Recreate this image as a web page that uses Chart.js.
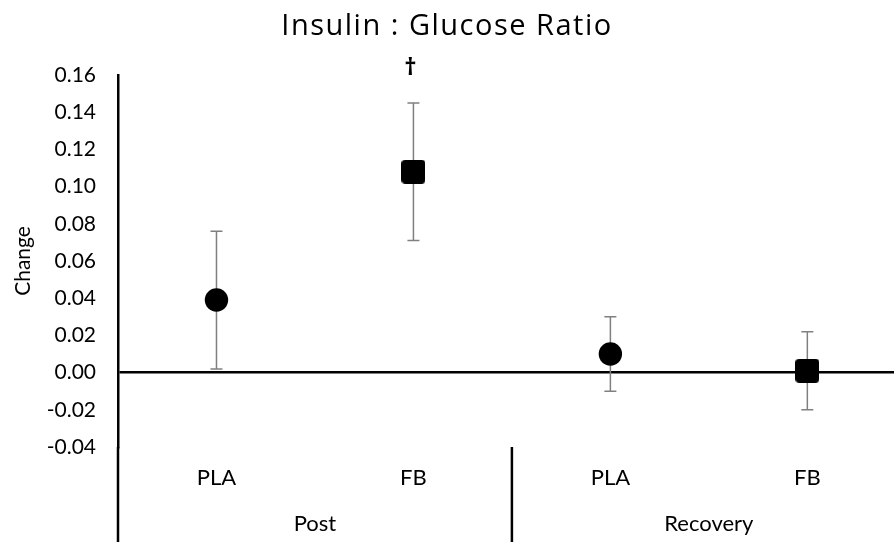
<!DOCTYPE html>
<html>
<head>
<meta charset="utf-8">
<script src="https://cdn.jsdelivr.net/npm/chart.js@4.4.1/dist/chart.umd.min.js"></script>
<style>
  html, body { margin: 0; padding: 0; background: #fff; overflow: hidden; }
  canvas { display: block; }
</style>
</head>
<body>
<canvas id="chart" width="894" height="542" style="width:894px;height:542px"></canvas>
<script>
// Change in insulin : glucose ratio, mean ± error, per treatment and time point
const categories = ['PLA', 'FB', 'PLA', 'FB'];
const groups = ['Post', 'Recovery'];
const means = [0.039, 0.108, 0.010, 0.001];
const errors = [0.037, 0.037, 0.020, 0.021];
const markers = ['circle', 'square', 'circle', 'square'];
const marks = ['', '†', '', ''];
const yTicks = { min: -0.04, max: 0.16, step: 0.02 };
// visible span of the category axis (the last slot runs past the frame edge)
const xSpan = { min: -0.5, max: 3.44 };
const chartTitle = 'Insulin : Glucose Ratio';
const yTitle = 'Change';

const FONT = 'Lato, "Open Sans", sans-serif';
const TITLE_FONT = '"Open Sans", Lato, sans-serif';
const perGroup = categories.length / groups.length;

// rounded black square used as the FB marker
function makeSquare(size, r) {
  const c = document.createElement('canvas');
  c.width = size; c.height = size;
  const g = c.getContext('2d');
  g.fillStyle = '#000';
  g.beginPath();
  g.moveTo(r, 0); g.lineTo(size - r, 0); g.quadraticCurveTo(size, 0, size, r);
  g.lineTo(size, size - r); g.quadraticCurveTo(size, size, size - r, size);
  g.lineTo(r, size); g.quadraticCurveTo(0, size, 0, size - r);
  g.lineTo(0, r); g.quadraticCurveTo(0, 0, r, 0);
  g.closePath(); g.fill();
  return c;
}
const squareImg = makeSquare(24, 4);
const pointStyles = markers.map(m => m === 'square' ? squareImg : 'circle');

const errorBars = {
  id: 'errorBars',
  beforeDatasetsDraw(chart) {
    const { ctx, scales: { x, y } } = chart;
    ctx.save();
    ctx.strokeStyle = '#808080';
    ctx.lineWidth = 1.5;
    means.forEach((m, i) => {
      const px = x.getPixelForValue(i);
      const top = y.getPixelForValue(m + errors[i]);
      const bot = y.getPixelForValue(m - errors[i]);
      ctx.beginPath();
      ctx.moveTo(px, top); ctx.lineTo(px, bot);
      ctx.moveTo(px - 6, top); ctx.lineTo(px + 6, top);
      ctx.moveTo(px - 6, bot); ctx.lineTo(px + 6, bot);
      ctx.stroke();
    });
    ctx.restore();
  },
  afterDatasetsDraw(chart) {
    const { ctx, scales: { x, y } } = chart;
    ctx.save();
    ctx.fillStyle = '#000';
    ctx.font = 'bold 24px ' + TITLE_FONT;
    ctx.textAlign = 'center';
    ctx.textBaseline = 'middle';
    marks.forEach((t, i) => {
      if (!t) return;
      ctx.fillText(t, x.getPixelForValue(i) - 3, y.getPixelForValue(means[i] + errors[i]) - 35);
    });
    ctx.restore();
  }
};

// group dividers under the category axis plus the chart title
const frame = {
  id: 'frame',
  afterDraw(chart) {
    const { ctx, chartArea, scales: { x } } = chart;
    ctx.save();
    ctx.strokeStyle = '#000';
    ctx.lineWidth = 2.5;
    for (let g = 0; g <= groups.length; g++) {
      const px = x.getPixelForValue(g * perGroup - 0.5);
      ctx.beginPath();
      ctx.moveTo(px, chartArea.bottom);
      ctx.lineTo(px, chart.height);
      ctx.stroke();
    }
    ctx.fillStyle = '#000';
    ctx.font = '29px ' + TITLE_FONT;
    ctx.letterSpacing = '1.5px';
    ctx.textAlign = 'center';
    ctx.textBaseline = 'middle';
    ctx.fillText(chartTitle, chart.width / 2, 27);
    ctx.restore();
  }
};

new Chart(document.getElementById('chart'), {
  type: 'scatter',
  data: {
    datasets: [{
      data: means.map((m, i) => ({ x: i, y: m })),
      showLine: false,
      pointStyle: pointStyles,
      pointRadius: 11.7,
      pointBackgroundColor: '#000',
      pointBorderColor: '#000',
      pointBorderWidth: 0
    }]
  },
  options: {
    responsive: false,
    animation: false,
    layout: { autoPadding: false, padding: { top: 75, left: 0, right: 0, bottom: 0 } },
    plugins: { legend: { display: false }, tooltip: { enabled: false }, title: { display: false } },
    scales: {
      x: {
        type: 'linear',
        position: 'bottom',
        weight: 0,
        min: xSpan.min,
        max: xSpan.max,
        afterBuildTicks(s) { s.ticks = categories.map((_, i) => ({ value: i })); },
        grid: { display: false, drawTicks: false },
        border: { display: false },
        ticks: {
          autoSkip: false, maxRotation: 0,
          color: '#000', font: { family: FONT, size: 22 }, padding: 18,
          callback: v => categories[Math.round(v)]
        },
        afterFit(s) { s.height = 56; }
      },
      x2: {
        type: 'linear',
        position: 'bottom',
        weight: 1,
        min: xSpan.min,
        max: xSpan.max,
        afterBuildTicks(s) { s.ticks = groups.map((_, g) => ({ value: g * perGroup + (perGroup - 1) / 2 })); },
        grid: { display: false, drawTicks: false },
        border: { display: false },
        ticks: {
          autoSkip: false, maxRotation: 0,
          color: '#000', font: { family: FONT, size: 22 }, padding: 8,
          callback: v => groups[Math.round((v - (perGroup - 1) / 2) / perGroup)]
        },
        afterFit(s) { s.height = 39; }
      },
      y: {
        min: yTicks.min,
        max: yTicks.max,
        ticks: {
          stepSize: yTicks.step,
          color: '#000',
          font: { family: FONT, size: 21 },
          padding: 22,
          callback: v => Number(v).toFixed(2)
        },
        grid: {
          drawTicks: false,
          color: c => (c.tick && Math.abs(c.tick.value) < 1e-9) ? '#000' : 'rgba(0,0,0,0)',
          lineWidth: 2.5
        },
        border: { display: true, color: '#000', width: 2.5 },
        title: { display: true, text: yTitle, color: '#000', font: { family: FONT, size: 21 }, padding: { top: 11, bottom: 0 } },
        afterFit(s) { s.width = 118; }
      }
    }
  },
  plugins: [errorBars, frame]
});
</script>
</body>
</html>
